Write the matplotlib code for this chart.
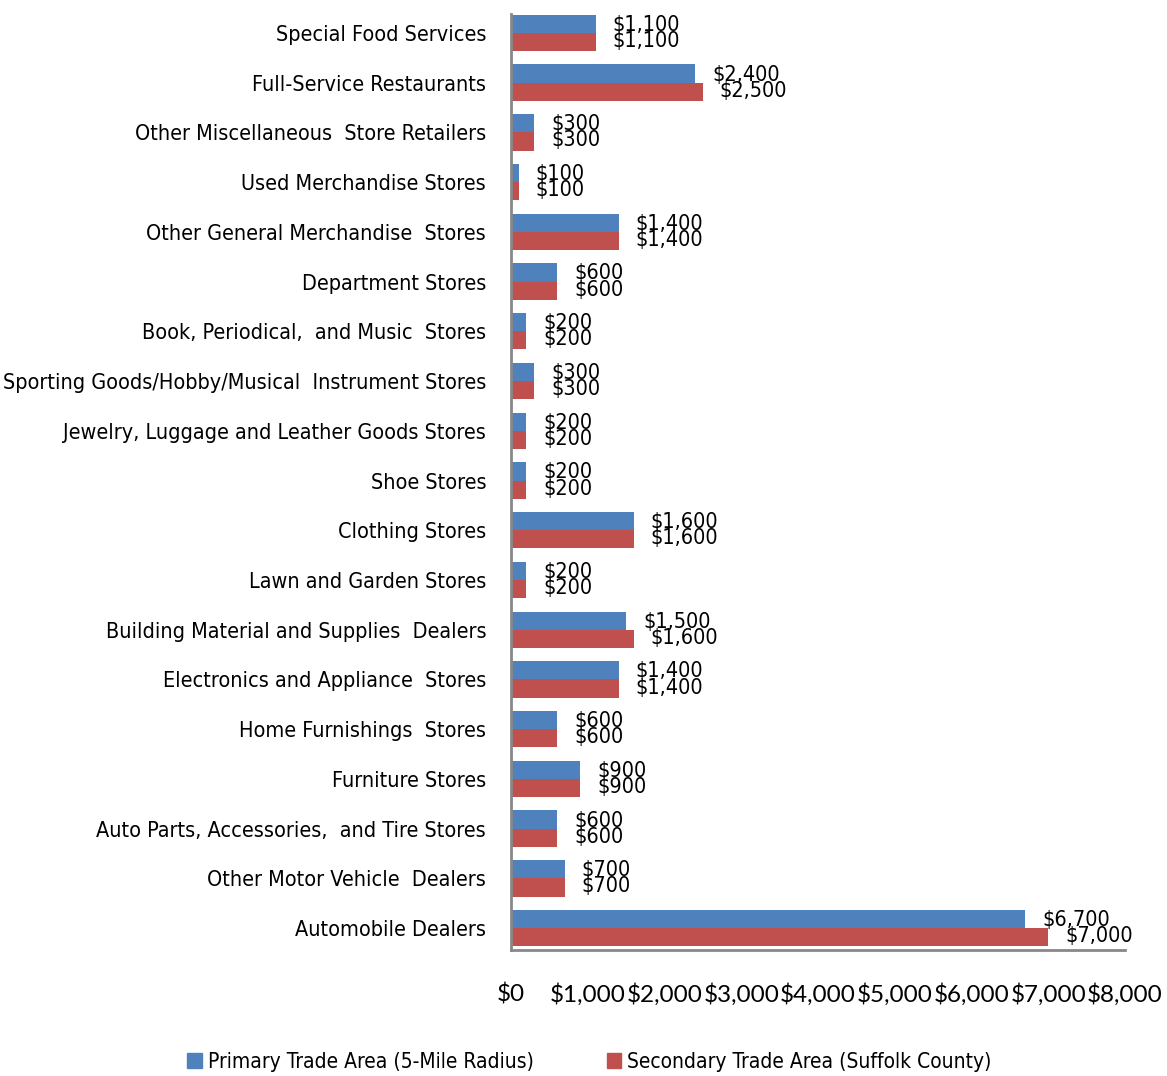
import numpy as np
import matplotlib
matplotlib.use('Agg')
import matplotlib.pyplot as plt
from matplotlib.patches import Patch
from matplotlib import font_manager

categories = ['Special Food Services', 'Full-Service Restaurants',
              'Other Miscellaneous  Store Retailers', 'Used Merchandise Stores',
              'Other General Merchandise  Stores', 'Department Stores',
              'Book, Periodical,  and Music  Stores',
              'Sporting Goods/Hobby/Musical  Instrument Stores',
              'Jewelry, Luggage and Leather Goods Stores', 'Shoe Stores',
              'Clothing Stores', 'Lawn and Garden Stores',
              'Building Material and Supplies  Dealers',
              'Electronics and Appliance  Stores', 'Home Furnishings  Stores',
              'Furniture Stores', 'Auto Parts, Accessories,  and Tire Stores',
              'Other Motor Vehicle  Dealers', 'Automobile Dealers']
primary = [1100, 2400, 300, 100, 1400, 600, 200, 300, 200, 200,
           1600, 200, 1500, 1400, 600, 900, 600, 700, 6700]
secondary = [1100, 2500, 300, 100, 1400, 600, 200, 300, 200, 200,
             1600, 200, 1600, 1400, 600, 900, 600, 700, 7000]
xticks = [0, 1000, 2000, 3000, 4000, 5000, 6000, 7000, 8000]

# look for a narrow / condensed face (the original looks like Arial Narrow)
narrow_file = None
for f in font_manager.fontManager.ttflist:
    n = f.name.lower()
    if ('narrow' in n or 'condensed' in n or f.stretch in ('condensed', 'semi-condensed')) \
            and f.style == 'normal' and f.weight in (400, 'normal', 'regular'):
        narrow_file = f.fname
        break
if narrow_file:
    nprops = dict(fname=narrow_file)
else:
    nprops = dict(family=['Liberation Sans', 'DejaVu Sans'])


def nfont(size):
    return font_manager.FontProperties(size=size, **nprops)


blue = '#4F81BD'
red = '#C0504D'

fig = plt.figure(figsize=(11.67, 10.76), dpi=100)
ax = fig.add_axes([0.438, 0.1171, 0.526, 0.8699])

y = np.arange(len(categories))
h = 0.365
ax.barh(y - h / 2, primary, height=h, color=blue)
ax.barh(y + h / 2, secondary, height=h, color=red)

for yi, p, s in zip(y, primary, secondary):
    ax.text(p + 220, yi - h / 2 + 0.02, '${:,}'.format(p), va='center', ha='left',
            fontproperties=nfont(15.5))
    ax.text(s + 220, yi + h / 2 - 0.02, '${:,}'.format(s), va='center', ha='left',
            fontproperties=nfont(15.5))

ax.set_xlim(0, 8000)
ax.set_ylim(18.44, -0.38)
ax.set_yticks(y)
ax.set_yticklabels(categories, fontproperties=nfont(15.5))
ax.set_xticks(xticks)
ax.set_xticklabels(['${:,}'.format(v) for v in xticks], family=['Lato', 'DejaVu Sans'],
                   fontsize=17.5)
ax.tick_params(axis='both', length=0)
ax.tick_params(axis='x', pad=24)
ax.tick_params(axis='y', pad=18)
for side in ['top', 'right']:
    ax.spines[side].set_visible(False)
for side in ['left', 'bottom']:
    ax.spines[side].set_color('#888888')
    ax.spines[side].set_linewidth(2)

handles = [Patch(color=blue, label='Primary Trade Area (5-Mile Radius)'),
           Patch(color=red, label='Secondary Trade Area (Suffolk County)')]
fig.legend(handles=handles, loc='center', bbox_to_anchor=(0.505, 0.013), ncol=2,
           frameon=False, prop=nfont(15),
           handlelength=0.7, handleheight=0.7, handletextpad=0.3, columnspacing=3.5)

fig.savefig('out.png', dpi=100)
